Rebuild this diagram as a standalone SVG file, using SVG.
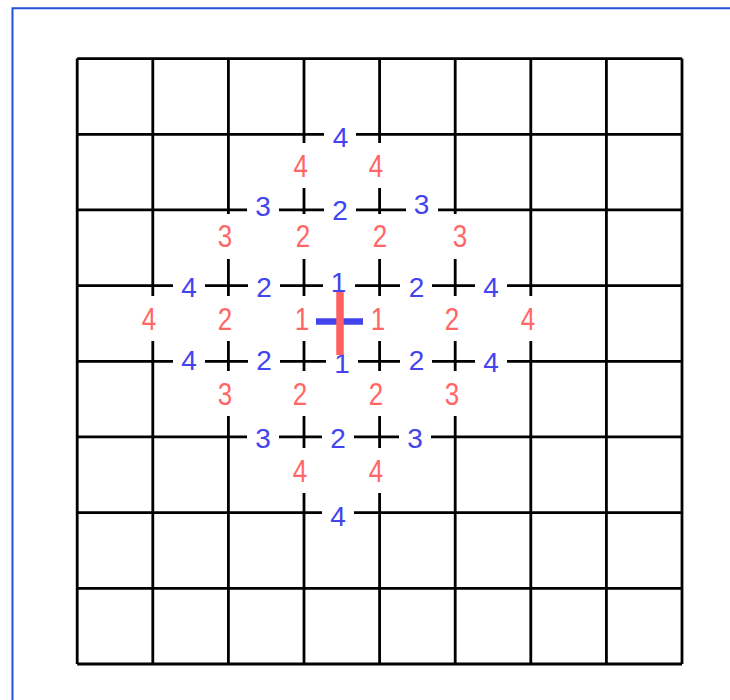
<svg xmlns="http://www.w3.org/2000/svg" width="730" height="700" viewBox="0 0 730 700">
<style>
.frame{fill:none;stroke:#2450dc;stroke-width:2}
.grid{fill:none;stroke:#000;stroke-width:2.8}
.bg{fill:#fff}
.b{font-family:"Liberation Sans",Arial,sans-serif;font-size:28px;fill:#4444ee;text-anchor:middle}
.r{font-family:"Liberation Sans",Arial,sans-serif;font-size:26px;fill:#ff6666;text-anchor:middle}
</style>
<rect width="730" height="700" fill="#fff"/>
<path class="frame" d="M12.5,700 V8.3 H730"/>
<g id="grid">
<path class="grid" d="M77.2,58.6 V664 M152.8,58.6 V664 M228.4,58.6 V664 M304,58.6 V664 M379.6,58.6 V664 M455.2,58.6 V664 M530.8,58.6 V664 M606.4,58.6 V664 M682,58.6 V664 M77.2,58.6 H682 M77.2,134.3 H682 M77.2,209.9 H682 M77.2,285.6 H682 M77.2,361.3 H682 M77.2,436.9 H682 M77.2,512.6 H682 M77.2,588.3 H682 M77.2,664 H682"/>
</g>
<g id="blue-labels">
<rect class="bg" x="324" y="125" width="32" height="24"/><text class="b" x="340.5" y="147">4</text>
<rect class="bg" x="247" y="198" width="32" height="24"/><text class="b" x="263" y="216">3</text>
<rect class="bg" x="324" y="198" width="32" height="24"/><text class="b" x="340" y="220">2</text>
<rect class="bg" x="406" y="198" width="32" height="24"/><text class="b" x="421.5" y="213.7">3</text>
<rect class="bg" x="173" y="274" width="32" height="24"/><text class="b" x="189" y="297.2">4</text>
<rect class="bg" x="248" y="274" width="32" height="24"/><text class="b" x="264" y="297.2">2</text>
<rect class="bg" x="323" y="272" width="32" height="24"/><text class="b" x="338.5" y="291.5">1</text>
<rect class="bg" x="400" y="274" width="32" height="24"/><text class="b" x="416.5" y="297.2">2</text>
<rect class="bg" x="475" y="274" width="32" height="24"/><text class="b" x="491" y="297.2">4</text>
<rect class="bg" x="173" y="349" width="32" height="24"/><text class="b" x="189" y="370.2">4</text>
<rect class="bg" x="248" y="349" width="32" height="24"/><text class="b" x="264" y="370.2">2</text>
<rect class="bg" x="326" y="350" width="32" height="24"/><text class="b" x="342" y="372.5">1</text>
<rect class="bg" x="400" y="349" width="32" height="24"/><text class="b" x="416.5" y="370.2">2</text>
<rect class="bg" x="475" y="349" width="32" height="24"/><text class="b" x="491" y="371.7">4</text>
<rect class="bg" x="247" y="425" width="32" height="24"/><text class="b" x="263" y="447.5">3</text>
<rect class="bg" x="322" y="425" width="32" height="24"/><text class="b" x="338" y="447.5">2</text>
<rect class="bg" x="399" y="425" width="32" height="24"/><text class="b" x="415" y="447.5">3</text>
<rect class="bg" x="322" y="501" width="32" height="24"/><text class="b" x="338" y="526">4</text>
</g>
<g id="red-labels">
<rect class="bg" x="289" y="143" width="24" height="45"/><text class="r" transform="translate(300.8,176.7) scale(1,1.2)">4</text>
<rect class="bg" x="364" y="143" width="24" height="45"/><text class="r" transform="translate(376,176.7) scale(1,1.2)">4</text>
<rect class="bg" x="213" y="214" width="24" height="45"/><text class="r" transform="translate(225,247.2) scale(1,1.2)">3</text>
<rect class="bg" x="291" y="214" width="24" height="45"/><text class="r" transform="translate(303,247.2) scale(1,1.2)">2</text>
<rect class="bg" x="368" y="214" width="24" height="45"/><text class="r" transform="translate(380,247.2) scale(1,1.2)">2</text>
<rect class="bg" x="448" y="214" width="24" height="45"/><text class="r" transform="translate(460,247.2) scale(1,1.2)">3</text>
<rect class="bg" x="137" y="296" width="24" height="45"/><text class="r" transform="translate(149,329.5) scale(1,1.2)">4</text>
<rect class="bg" x="213" y="296" width="24" height="45"/><text class="r" transform="translate(225,329.5) scale(1,1.2)">2</text>
<rect class="bg" x="290" y="296" width="24" height="45"/><text class="r" transform="translate(302,329.5) scale(1,1.2)">1</text>
<rect class="bg" x="366" y="296" width="24" height="45"/><text class="r" transform="translate(378,329.5) scale(1,1.2)">1</text>
<rect class="bg" x="440" y="296" width="24" height="45"/><text class="r" transform="translate(452,329.5) scale(1,1.2)">2</text>
<rect class="bg" x="516" y="296" width="24" height="45"/><text class="r" transform="translate(528,329.5) scale(1,1.2)">4</text>
<rect class="bg" x="213" y="371" width="24" height="45"/><text class="r" transform="translate(225,404.7) scale(1,1.2)">3</text>
<rect class="bg" x="288" y="371" width="24" height="45"/><text class="r" transform="translate(300,404.7) scale(1,1.2)">2</text>
<rect class="bg" x="364" y="371" width="24" height="45"/><text class="r" transform="translate(376,404.7) scale(1,1.2)">2</text>
<rect class="bg" x="440" y="371" width="24" height="45"/><text class="r" transform="translate(452,404.7) scale(1,1.2)">3</text>
<rect class="bg" x="288" y="448" width="24" height="45"/><text class="r" transform="translate(300,482) scale(1,1.2)">4</text>
<rect class="bg" x="364" y="448" width="24" height="45"/><text class="r" transform="translate(376,482) scale(1,1.2)">4</text>
</g>
<g id="cross">
<line x1="316" y1="321.5" x2="363" y2="321.5" stroke="#4444ee" stroke-width="6.5"/>
<line x1="340" y1="292" x2="340" y2="355" stroke="#ff6060" stroke-width="7.5"/>
</g>
</svg>
